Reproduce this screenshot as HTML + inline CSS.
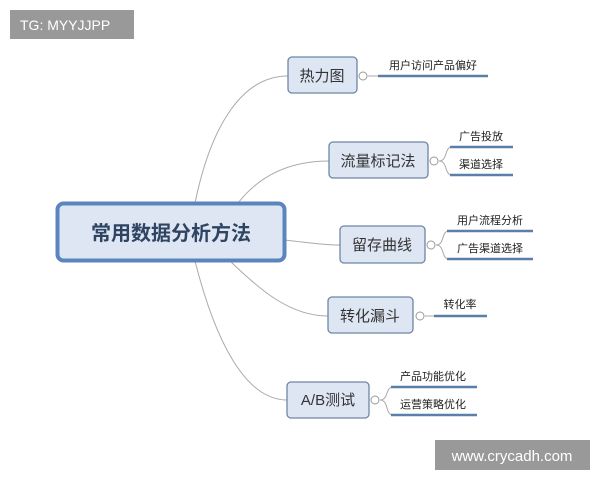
<!DOCTYPE html>
<html><head><meta charset="utf-8"><style>
body{margin:0;width:600px;height:480px;background:#fff;overflow:hidden;font-family:"Liberation Sans","Noto Sans CJK SC",sans-serif;}
svg{position:absolute;left:0;top:0}
</style></head><body>
<svg width="600" height="480" xmlns="http://www.w3.org/2000/svg" font-family="Liberation Sans, Noto Sans CJK SC, sans-serif">
<g fill="none" stroke="#aaa" stroke-width="1">
<path d="M195 203 C210 130 240 76 288 76"/>
<path d="M238 203 C260 175 290 161 329 161"/>
<path d="M284 240 C305 242 320 245 340 245"/>
<path d="M230 261 C260 290 290 316 328 316"/>
<path d="M195 261 C215 340 245 400 287 400"/>
<path d="M368 76 H378"/><path d="M439 161 C448 161 444 147 452 147"/><path d="M439 161 C448 161 444 175 452 175"/>
<path d="M436 245 C445 245 441 231 449 231"/><path d="M436 245 C445 245 441 259 449 259"/>
<path d="M425 316 H434"/>
<path d="M380 400 C389 400 385 387 393 387"/><path d="M380 400 C389 400 385 415 393 415"/>
</g>
<g stroke="#5a7fa8" stroke-width="2.5">
<path d="M378 76 H488"/><path d="M450 147 H513"/><path d="M450 175 H513"/>
<path d="M447 231 H533"/><path d="M447 259 H533"/><path d="M434 316 H487"/>
<path d="M391 387 H477"/><path d="M391 415 H477"/>
</g>
<g fill="#fff" stroke="#999" stroke-width="1">
<circle cx="363" cy="76" r="4"/><circle cx="434" cy="161" r="4"/><circle cx="431" cy="245" r="4"/><circle cx="420" cy="316" r="4"/><circle cx="375" cy="400" r="4"/>
</g>
<rect x="57.5" y="203.5" width="227" height="57" rx="6" fill="#dde6f2" stroke="#5b85bd" stroke-width="4"/>
<text x="171" y="240" font-size="20" font-weight="bold" fill="#2e4462" text-anchor="middle">常用数据分析方法</text>
<g fill="#dde6f2" stroke="#6e86a6" stroke-width="1.3">
<rect x="288" y="57" width="69" height="36" rx="4"/>
<rect x="329" y="142" width="99" height="36" rx="4"/>
<rect x="340" y="226" width="85" height="37" rx="4"/>
<rect x="328" y="297" width="85" height="36" rx="4"/>
<rect x="287" y="382" width="82" height="36" rx="4"/>
</g>
<g font-size="15" fill="#333" text-anchor="middle">
<text x="322" y="81">热力图</text>
<text x="378" y="166">流量标记法</text>
<text x="382" y="250">留存曲线</text>
<text x="370" y="321">转化漏斗</text>
<text x="328" y="405">A/B测试</text>
</g>
<g font-size="11" fill="#222" text-anchor="middle">
<text x="433" y="69">用户访问产品偏好</text>
<text x="481" y="140">广告投放</text>
<text x="481" y="168">渠道选择</text>
<text x="490" y="224">用户流程分析</text>
<text x="490" y="252">广告渠道选择</text>
<text x="460" y="308">转化率</text>
<text x="433" y="380">产品功能优化</text>
<text x="433" y="408">运营策略优化</text>
</g>
<rect x="10" y="10" width="124" height="29" fill="#999"/>
<text x="20" y="30" font-size="14" fill="#fff">TG: MYYJJPP</text>
<rect x="435" y="440" width="155" height="30" fill="#999"/>
<text x="512" y="461" font-size="15" fill="#fff" text-anchor="middle">www.crycadh.com</text>
</svg>
</body></html>
